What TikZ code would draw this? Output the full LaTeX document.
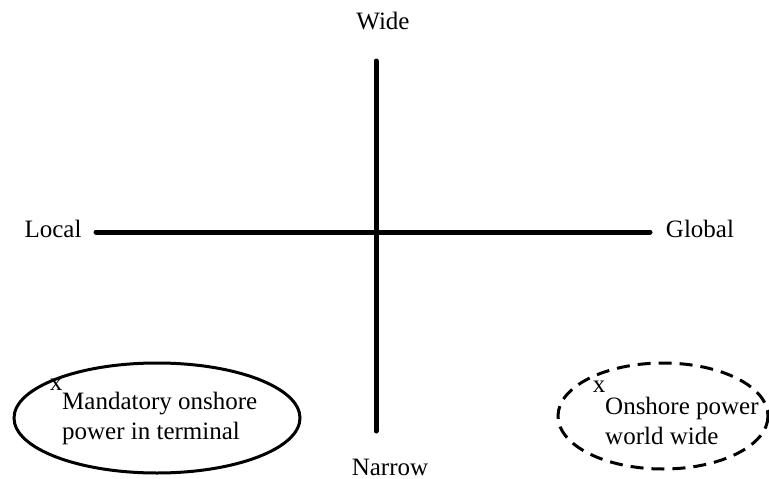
\documentclass[tikz,border=0pt]{standalone}
\usepackage{fontspec}
\setmainfont{Liberation Serif}
\usetikzlibrary{shapes.geometric}
\begin{document}
\begin{tikzpicture}[x=1pt,y=-1pt,
  lbl/.style={inner sep=0pt,font=\fontsize{25}{30}\selectfont},
  axisline/.style={line width=5pt,line cap=round},
  oval/.style={line width=3pt},
  txt/.style={inner sep=0pt,align=left,anchor=north west,font=\fontsize{25}{29.5}\selectfont}]
\useasboundingbox (0,0) rectangle (769,479);
\node[lbl] (wide) at (383,21) {Wide};
\node[lbl] (narrow) at (390,467) {Narrow};
\node[lbl] (local) at (53,229) {Local};
\node[lbl] (global) at (700,229) {Global};
\coordinate (top) at (376,61);
\coordinate (bot) at (376,431);
\coordinate (lft) at (96,232);
\coordinate (rgt) at (650,232);
\draw[axisline] (top) -- (bot);
\draw[axisline] (lft) -- (rgt);
\draw[oval] (157,418) ellipse [x radius=143, y radius=55];
\draw[oval,dash pattern=on 13pt off 8pt] (663,416) ellipse [x radius=105, y radius=53];
\node[lbl] (x1) at (56,385) {x};
\node[txt] (t1) at (62,392) {Mandatory onshore\\power in terminal};
\node[lbl] (x2) at (599,387) {x};
\node[txt] (t2) at (605,397) {Onshore power\\world wide};
\end{tikzpicture}
\end{document}
